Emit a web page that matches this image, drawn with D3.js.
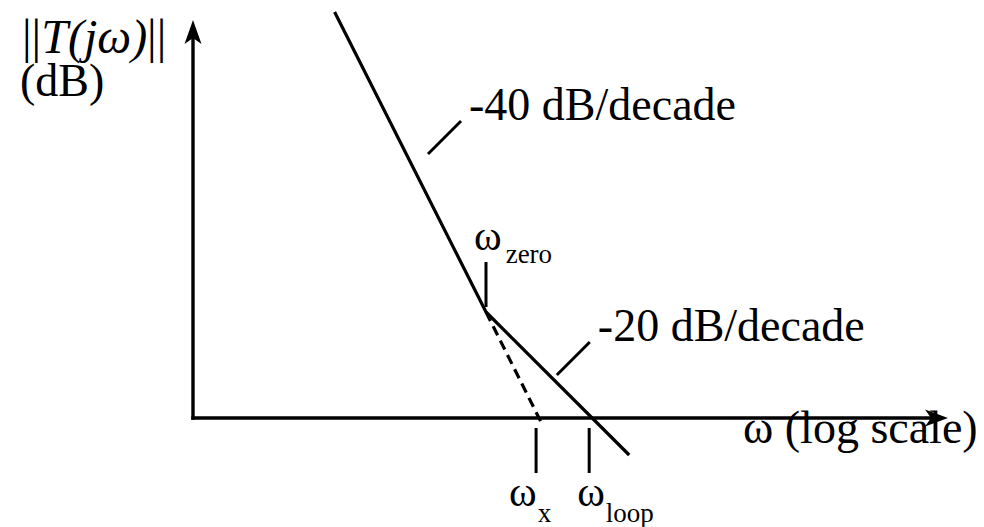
<!DOCTYPE html>
<html>
<head>
<meta charset="utf-8">
<script src="https://cdn.jsdelivr.net/npm/d3@7"></script>
<style>
  html, body { margin: 0; padding: 0; background: #fff; }
  svg { display: block; }
</style>
</head>
<body>
<svg id="chart" width="984" height="527"></svg>
<script>
// Asymptotic Bode magnitude of the loop gain, frequency normalised to the zero.
const steepSegment   = [{ w: 0.175, db: 40.6 }, { w: 1, db: 10.6 }];   // -40 dB/decade
const shallowSegment = [{ w: 1, db: 10.6 }, { w: 5.2, db: -3.7 }];    // -20 dB/decade
const extendedSteep  = [{ w: 1, db: 10.6 }, { w: 1.9, db: -0.55 }];   // -40 dB/decade carried on past the zero
const freqMarks = [
  { sub: "zero", w: 1,    db: 10.6 },
  { sub: "x",    w: 1.78, db: 0 },
  { sub: "loop", w: 3.28, db: 0 }
];
const slopeNotes = [
  { text: "-40 dB/decade", w: 0.513, db: 26.4 },
  { text: "-20 dB/decade", w: 2.26,  db: 4.3 }
];
const yTitle = ["||", "T(jω)", "||"];
const yUnit = "(dB)";
const xTitle = "ω (log scale)";

const FONT = "'Liberation Serif', Tinos, 'Times New Roman', Times, 'DejaVu Serif', serif";

const svg = d3.select("#chart");
const W = 984, H = 527;
svg.append("rect").attr("width", W).attr("height", H).attr("fill", "#fff");

const x = d3.scaleLog().domain([0.1, 10]).range([286, 686]);
const y = d3.scaleLinear().domain([0, 40]).range([418, 18]);

// axis frame
const axisLeft = 193, axisRight = 948, axisTop = 20;
const y0 = y(0);
const frame = svg.append("g").attr("stroke", "#000").attr("stroke-width", 3.4).attr("fill", "none");
frame.append("line").attr("x1", axisLeft).attr("y1", y0 + 1.7).attr("x2", axisLeft).attr("y2", axisTop + 16);
frame.append("line").attr("x1", axisLeft - 1.7).attr("y1", y0).attr("x2", axisRight - 16).attr("y2", y0);

svg.append("path")
  .attr("d", `M${axisLeft},${axisTop} L${axisLeft + 8.5},${axisTop + 24} L${axisLeft},${axisTop + 18} L${axisLeft - 8.5},${axisTop + 24} Z`)
  .attr("fill", "#000");
svg.append("path")
  .attr("d", `M${axisRight},${y0} L${axisRight - 23},${y0 - 8.5} L${axisRight - 17},${y0} L${axisRight - 23},${y0 + 8.5} Z`)
  .attr("fill", "#000");

// gain asymptotes
const line = d3.line().x(d => x(d.w)).y(d => y(d.db));
const curve = svg.append("g").attr("fill", "none").attr("stroke", "#000").attr("stroke-width", 3.2);
curve.append("path").attr("d", line([...steepSegment, shallowSegment[1]])).attr("stroke-linejoin", "miter");
curve.append("path").attr("d", line(extendedSteep)).attr("stroke-dasharray", "10,6");

const txt = (g, px, py, size) => g.append("text")
  .attr("x", px).attr("y", py)
  .attr("font-family", FONT).attr("font-size", size).attr("fill", "#000");

// slope annotations with leader strokes
const notes = svg.append("g");
slopeNotes.forEach(n => {
  const px = x(n.w), py = y(n.db);
  notes.append("line").attr("x1", px).attr("y1", py).attr("x2", px + 33).attr("y2", py - 33)
    .attr("stroke", "#000").attr("stroke-width", 3);
  txt(notes, px + 41, py - 34, 46).text(n.text);
});

// frequency markers
const marks = svg.append("g");
freqMarks.forEach(m => {
  const px = x(m.w);
  const above = m.sub === "zero";
  const py = y(m.db);
  const t1 = above ? py - 50 : py + 10;
  const t2 = above ? py - 5 : py + 55;
  marks.append("line").attr("x1", px).attr("y1", t1).attr("x2", px).attr("y2", t2)
    .attr("stroke", "#000").attr("stroke-width", 3);
  const shift = m.sub === "x" ? 27 : 12;
  const base = above ? py - 62 : py + 88;
  const t = txt(marks, px - shift, base, 42);
  t.append("tspan").text("ω");
  t.append("tspan").attr("font-size", 27).attr("dx", above ? 4 : 1).attr("dy", above ? 13 : 16).text(m.sub);
});

// axis titles
const yt = txt(svg, 22, 53, 48);
yt.append("tspan").text(yTitle[0]);
yt.append("tspan").attr("font-style", "italic").text(yTitle[1]);
yt.append("tspan").text(yTitle[2]);
txt(svg, 20, 96, 46).text(yUnit);
txt(svg, 743, 443, 46).text(xTitle);
</script>
</body>
</html>
